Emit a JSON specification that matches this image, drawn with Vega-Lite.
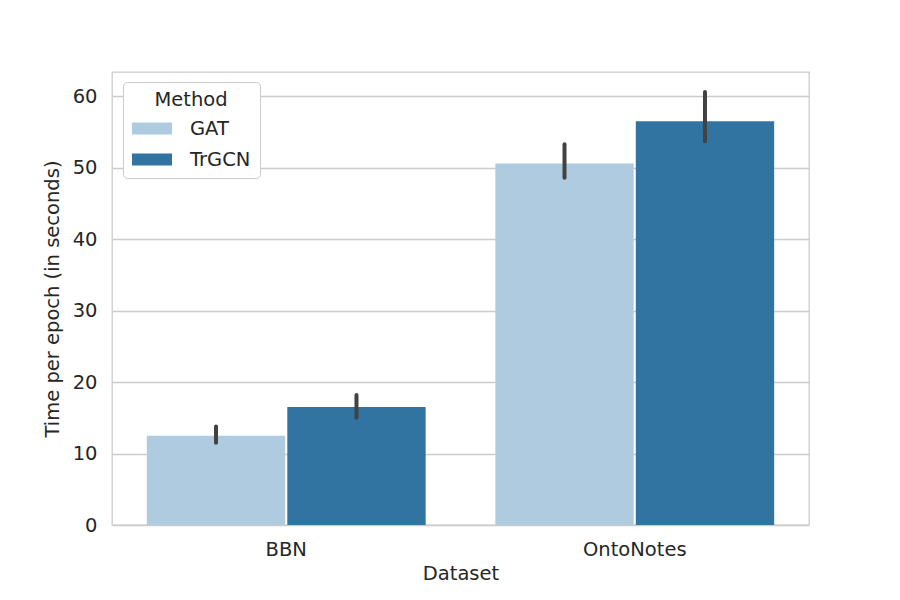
{
  "$schema": "https://vega.github.io/schema/vega-lite/v6.json",
  "autosize": {"type": "none"},
  "width": 697,
  "height": 453,
  "padding": {"left": 112, "top": 72, "right": 91, "bottom": 75},
  "background": "white",
  "config": {
    "font": "DejaVu Sans",
    "view": {"stroke": "#cccccc", "strokeWidth": 1.3},
    "axis": {
      "labelFont": "DejaVu Sans",
      "titleFont": "DejaVu Sans",
      "labelFontSize": 19.5,
      "titleFontSize": 19.5,
      "labelColor": "#262626",
      "titleColor": "#262626",
      "titleFontWeight": "normal",
      "domain": false,
      "ticks": false
    }
  },
  "data": {
    "values": [
      {"Dataset": "BBN", "Method": "GAT", "time": 12.5, "lo": 11.5, "hi": 13.8},
      {"Dataset": "BBN", "Method": "TrGCN", "time": 16.5, "lo": 15.0, "hi": 18.2},
      {"Dataset": "OntoNotes", "Method": "GAT", "time": 50.6, "lo": 48.6, "hi": 53.3},
      {"Dataset": "OntoNotes", "Method": "TrGCN", "time": 56.5, "lo": 53.7, "hi": 60.6}
    ]
  },
  "encoding": {
    "x": {
      "field": "Dataset",
      "type": "nominal",
      "sort": ["BBN", "OntoNotes"],
      "scale": {"paddingInner": 0.2, "paddingOuter": 0.1},
      "axis": {"labelAngle": 0, "labelPadding": 15, "titlePadding": 6, "grid": false},
      "title": "Dataset"
    },
    "xOffset": {
      "field": "Method",
      "type": "nominal",
      "sort": ["GAT", "TrGCN"],
      "scale": {"paddingInner": 0.015}
    }
  },
  "layer": [
    {
      "mark": {"type": "bar"},
      "encoding": {
        "y": {
          "field": "time",
          "type": "quantitative",
          "scale": {"domain": [0, 63.4], "nice": false},
          "axis": {
            "values": [0, 10, 20, 30, 40, 50, 60],
            "gridColor": "#cccccc",
            "gridWidth": 1.3,
            "labelPadding": 15,
            "titlePadding": 10
          },
          "title": "Time per epoch (in seconds)"
        },
        "color": {
          "field": "Method",
          "type": "nominal",
          "sort": ["GAT", "TrGCN"],
          "scale": {"domain": ["GAT", "TrGCN"], "range": ["#afcbdf", "#3274a1"]},
          "legend": {
            "orient": "none",
            "legendX": 11,
            "legendY": 10,
            "title": "Method",
            "titleFont": "DejaVu Sans",
            "titleFontSize": 19.5,
            "titleFontWeight": "normal",
            "titleColor": "#262626",
            "titleAnchor": "middle",
            "titlePadding": 8,
            "labelFont": "DejaVu Sans",
            "labelFontSize": 19.5,
            "labelColor": "#262626",
            "labelOffset": 38,
            "symbolType": "M-1,-0.6H3V0.6H-1Z",
            "symbolSize": 400,
            "symbolStrokeWidth": 0,
            "symbolOpacity": 1,
            "rowPadding": 11,
            "padding": 9,
            "strokeColor": "#cccccc",
            "cornerRadius": 4,
            "fillColor": "white"
          }
        }
      }
    },
    {
      "mark": {"type": "rule", "color": "#424242", "strokeWidth": 4, "strokeCap": "round"},
      "encoding": {
        "y": {"field": "lo", "type": "quantitative"},
        "y2": {"field": "hi"}
      }
    }
  ]
}
